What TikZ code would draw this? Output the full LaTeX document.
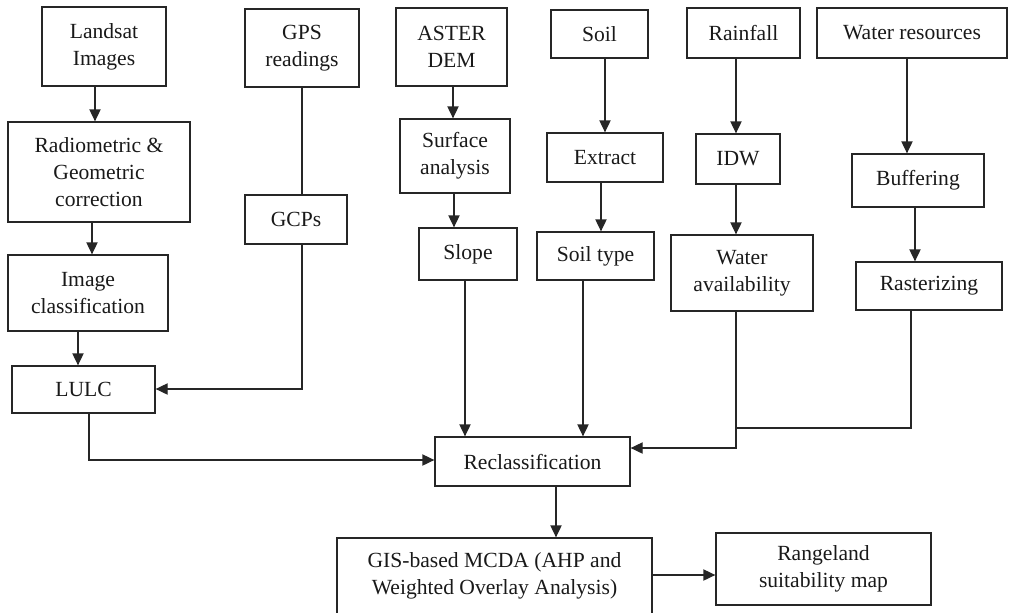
\documentclass[tikz,border=0pt]{standalone}
\usepackage{fontspec}
\setmainfont{Liberation Serif}
\usetikzlibrary{arrows.meta}
\begin{document}
\begin{tikzpicture}[x=0.5pt,y=-0.5pt,
  box/.style={draw=black!85,line width=0.65pt,inner sep=0pt,align=center,
    font=\fontsize{10.8}{13.5}\selectfont,text=black!90},
  link/.style={draw=black!85,line width=0.65pt},
  arr/.style={link,-{Triangle[width=5.6pt,length=6pt]}}]
\useasboundingbox (0,0) rectangle (1009,612);
% top row
\node[box,minimum width=62pt,minimum height=39.5pt] (landsat) at (104,46.5) {Landsat\\Images};
\node[box,minimum width=57pt,minimum height=39pt] (gps) at (302,48) {GPS\\readings};
\node[box,minimum width=55.5pt,minimum height=39pt] (aster) at (451.5,47) {ASTER\\DEM};
\node[box,minimum width=48.5pt,minimum height=24pt] (soil) at (599.5,34) {Soil};
\node[box,minimum width=56.5pt,minimum height=25pt] (rain) at (743.5,33) {Rainfall};
\node[box,minimum width=95pt,minimum height=25pt] (water) at (912,33) {Water resources};
% second row
\node[box,minimum width=91pt,minimum height=50pt] (radio) at (99,172) {Radiometric \&\\Geometric\\correction};
\node[box,minimum width=51pt,minimum height=24.5pt] (gcp) at (296,219.5) {GCPs};
\node[box,minimum width=55pt,minimum height=37pt] (surf) at (455,156) {Surface\\analysis};
\node[box,minimum width=58pt,minimum height=24.5pt] (extract) at (605,157.5) {Extract};
\node[box,minimum width=42pt,minimum height=25pt] (idw) at (738,159) {IDW};
\node[box,minimum width=66pt,minimum height=26.5pt] (buff) at (918,180.5) {Buffering};
% third row
\node[box,minimum width=80pt,minimum height=38pt] (imgc) at (88,293) {Image\\classification};
\node[box,minimum width=49pt,minimum height=26pt] (slope) at (468,254) {Slope};
\node[box,minimum width=58.5pt,minimum height=24pt] (soilt) at (595.5,256) {Soil type};
\node[box,minimum width=71pt,minimum height=38pt] (wavail) at (742,273) {Water\\availability};
\node[box,minimum width=73pt,minimum height=24pt] (raster) at (929,286) {Rasterizing};
% lower
\node[box,minimum width=71.5pt,minimum height=23.5pt] (lulc) at (83.5,389.5) {LULC};
\node[box,minimum width=97.5pt,minimum height=24.5pt] (reclass) at (532.5,461.5) {Reclassification};
\node[box,minimum width=157.5pt,minimum height=38pt] (gis) at (494.5,576) {GIS-based MCDA (AHP and\\Weighted Overlay Analysis)};
\node[box,minimum width=107.5pt,minimum height=36pt] (range) at (823.5,569) {Rangeland\\suitability map};
% x positions of connectors
\coordinate (c95) at (95,0);
\coordinate (c92) at (92,0);
\coordinate (c78) at (78,0);
\coordinate (c89) at (89,0);
\coordinate (c302) at (302,0);
\coordinate (c453) at (453,0);
\coordinate (c454) at (454,0);
\coordinate (c465) at (465,0);
\coordinate (c605) at (605,0);
\coordinate (c601) at (601,0);
\coordinate (c583) at (583,0);
\coordinate (c736) at (736,0);
\coordinate (c907) at (907,0);
\coordinate (c915) at (915,0);
\coordinate (c911) at (911,0);
\coordinate (c556) at (556,0);
\coordinate (y389) at (0,389);
\coordinate (y460) at (0,460);
\coordinate (y448) at (0,448);
\coordinate (y575) at (0,575);
\coordinate (j1) at (736,428);
% connectors
\draw[arr] (landsat.south -| c95) -- (radio.north -| c95);
\draw[arr] (radio.south -| c92) -- (imgc.north -| c92);
\draw[arr] (imgc.south -| c78) -- (lulc.north -| c78);
\draw[link] (gps.south -| c302) -- (gcp.north -| c302);
\draw[arr] (gcp.south -| c302) |- (lulc.east |- y389);
\draw[arr] (lulc.south -| c89) |- (reclass.west |- y460);
\draw[arr] (aster.south -| c453) -- (surf.north -| c453);
\draw[arr] (surf.south -| c454) -- (slope.north -| c454);
\draw[arr] (slope.south -| c465) -- (reclass.north -| c465);
\draw[arr] (soil.south -| c605) -- (extract.north -| c605);
\draw[arr] (extract.south -| c601) -- (soilt.north -| c601);
\draw[arr] (soilt.south -| c583) -- (reclass.north -| c583);
\draw[arr] (rain.south -| c736) -- (idw.north -| c736);
\draw[arr] (idw.south -| c736) -- (wavail.north -| c736);
\draw[arr] (wavail.south -| c736) |- (reclass.east |- y448);
\draw[arr] (water.south -| c907) -- (buff.north -| c907);
\draw[arr] (buff.south -| c915) -- (raster.north -| c915);
\draw[link] (raster.south -| c911) |- (j1);
\draw[arr] (reclass.south -| c556) -- (gis.north -| c556);
\draw[arr] (gis.east |- y575) -- (range.west |- y575);
\end{tikzpicture}
\end{document}
